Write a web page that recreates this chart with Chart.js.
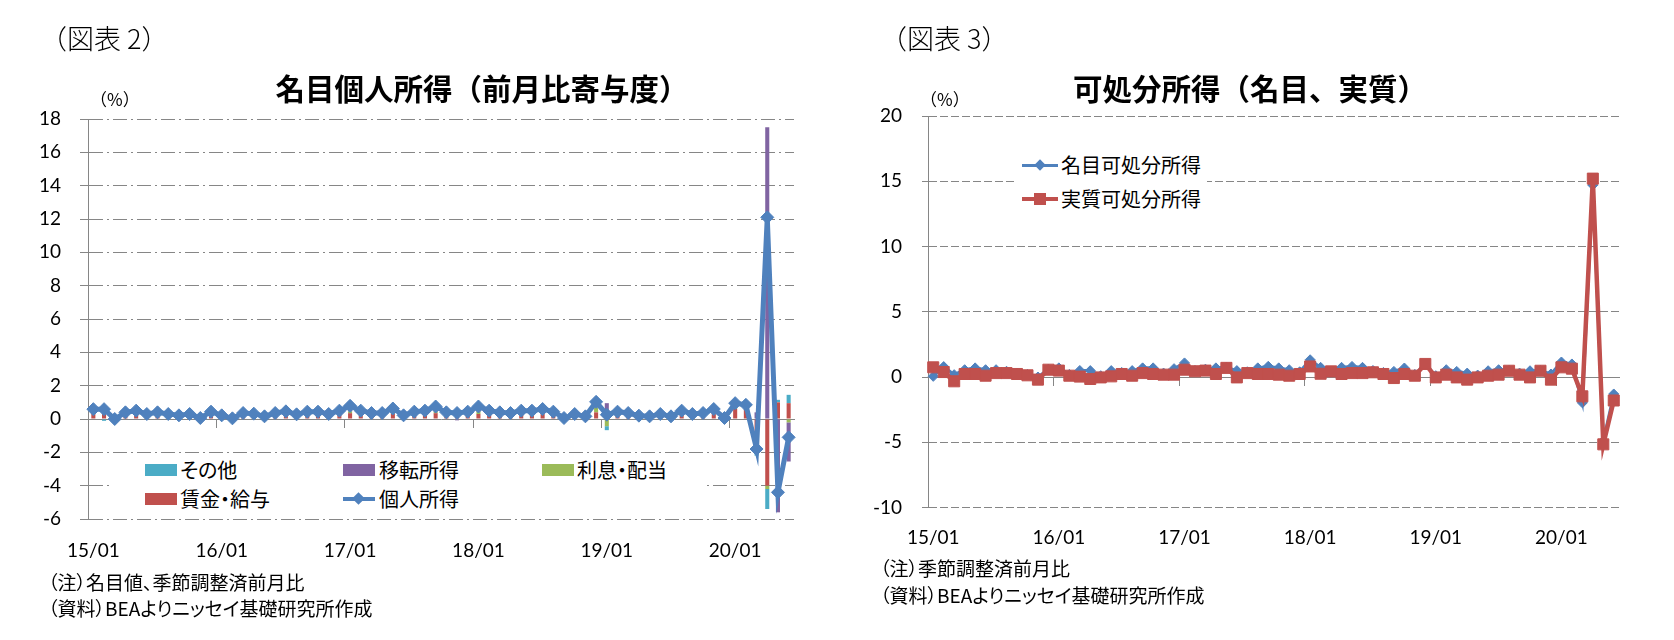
<!DOCTYPE html>
<html><head><meta charset="utf-8">
<script src="https://cdn.jsdelivr.net/npm/chart.js@4"></script>
<style>
html,body{margin:0;padding:0;background:#fff;}
body{width:1674px;height:640px;position:relative;overflow:hidden;font-family:"Noto Sans CJK JP",sans-serif;color:#000;}
.t{position:absolute;white-space:nowrap;line-height:1;}
.p{font-feature-settings:"palt";}
canvas{position:absolute;top:0;}
.box{position:absolute;background:#fff;}
.key{position:absolute;width:32px;height:12px;}
.ln{position:absolute;}
.dia{position:absolute;transform:rotate(45deg);}
</style></head><body>
<canvas id="c1" width="830" height="640" style="left:0"></canvas>
<canvas id="c2" width="844" height="640" style="left:830px"></canvas>

<div class="t" style="left:40px;top:24px;font-size:27px;font-weight:300;">（図表 2）</div>
<div class="t" style="left:880px;top:24px;font-size:27px;font-weight:300;">（図表 3）</div>
<div class="t" style="left:482px;top:73px;font-size:29.5px;font-weight:700;transform:translateX(-50%);">名目個人所得（前月比寄与度）</div>
<div class="t" style="left:1250px;top:73px;font-size:29.5px;font-weight:700;transform:translateX(-50%);">可処分所得（名目、実質）</div>
<div class="t" style="left:90px;top:90px;font-size:17px;">（%）</div>
<div class="t" style="left:920px;top:90px;font-size:17px;">（%）</div>

<div class="t p" style="left:48px;top:572px;font-size:19px;">（注）名目値、季節調整済前月比</div>
<div class="t p" style="left:48px;top:598px;font-size:19px;">（資料）BEAよりニッセイ基礎研究所作成</div>
<div class="t p" style="left:880px;top:558px;font-size:19px;">（注）季節調整済前月比</div>
<div class="t p" style="left:880px;top:585px;font-size:19px;">（資料）BEAよりニッセイ基礎研究所作成</div>

<!-- legend chart 1 -->
<div class="box" style="left:110px;top:455px;width:594px;height:60px;"></div>
<div class="key" style="left:145px;top:464px;background:#4BACC6;"></div>
<div class="t p" style="left:180px;top:460px;font-size:20px;">その他</div>
<div class="key" style="left:343px;top:464px;background:#8064A2;"></div>
<div class="t p" style="left:379px;top:460px;font-size:20px;">移転所得</div>
<div class="key" style="left:542px;top:464px;background:#9BBB59;"></div>
<div class="t p" style="left:577px;top:460px;font-size:20px;">利息・配当</div>
<div class="key" style="left:145px;top:493px;background:#C0504D;"></div>
<div class="t p" style="left:180px;top:489px;font-size:20px;">賃金・給与</div>
<div class="ln" style="left:343px;top:497px;width:32px;height:4px;background:#4F81BD;"></div>
<div class="dia" style="left:354px;top:494px;width:9px;height:9px;background:#4F81BD;"></div>
<div class="t p" style="left:379px;top:489px;font-size:20px;">個人所得</div>

<!-- legend chart 2 -->
<div class="box" style="left:1017px;top:140px;width:190px;height:82px;"></div>
<div class="ln" style="left:1022px;top:164px;width:36px;height:3px;background:#4F81BD;"></div>
<div class="dia" style="left:1036px;top:161px;width:8px;height:8px;background:#4F81BD;"></div>
<div class="t" style="left:1061px;top:155px;font-size:20px;">名目可処分所得</div>
<div class="ln" style="left:1022px;top:197px;width:36px;height:4px;background:#C0504D;"></div>
<div class="ln" style="left:1034px;top:193px;width:12px;height:12px;background:#C0504D;"></div>
<div class="t" style="left:1061px;top:189px;font-size:20px;">実質可処分所得</div>

<script>
// ---- categories (year/month) ----
const labels = [
 '15/01','15/02','15/03','15/04','15/05','15/06','15/07','15/08','15/09','15/10','15/11','15/12',
 '16/01','16/02','16/03','16/04','16/05','16/06','16/07','16/08','16/09','16/10','16/11','16/12',
 '17/01','17/02','17/03','17/04','17/05','17/06','17/07','17/08','17/09','17/10','17/11','17/12',
 '18/01','18/02','18/03','18/04','18/05','18/06','18/07','18/08','18/09','18/10','18/11','18/12',
 '19/01','19/02','19/03','19/04','19/05','19/06','19/07','19/08','19/09','19/10','19/11','19/12',
 '20/01','20/02','20/03','20/04','20/05','20/06'];

// ---- 図表2: contributions (%pt) ----
const wages = [
 0.35,0.3,0.1,0.2,0.3,0.2,0.25,0.2,0.1,0.2,0.1,0.25,
 0.15,0.05,0.2,0.2,0.1,0.2,0.3,0.15,0.25,0.25,0.2,0.3,
 0.35,0.3,0.2,0.2,0.3,0.1,0.25,0.3,0.35,0.25,0.2,0.25,
 0.3,0.3,0.25,0.2,0.3,0.3,0.35,0.25,0.15,0.2,0.1,0.4,
 0.35,0.25,0.2,0.1,0.1,0.2,0.1,0.3,0.2,0.2,0.35,0.05,
 0.6,0.6,-1.0,-4.0,1.0,0.95];
const interest = [
 0.05,0.05,0.0,0.05,0.05,0.03,0.05,0.03,0.03,0.03,0.0,0.05,
 0.02,0.0,0.05,0.03,0.02,0.05,0.05,0.03,0.05,0.05,0.03,0.05,
 0.1,0.05,0.04,0.04,0.13,0.03,0.05,0.05,0.1,0.04,0.04,0.05,
 0.15,0.05,0.05,0.04,0.05,0.05,0.06,0.05,0.0,0.03,0.02,0.3,
 -0.43,0.05,0.05,0.03,0.02,0.03,0.02,0.05,0.03,0.05,0.08,0.0,
 0.1,0.05,-0.1,-0.2,0.0,-0.2];
const transfers = [
 0.15,0.35,0.05,0.1,0.1,0.05,0.05,0.05,0.06,0.05,0.04,0.08,
 0.05,0.02,0.06,0.05,0.03,0.06,0.06,0.05,0.08,0.08,0.05,0.08,
 0.24,0.08,0.06,0.06,0.1,0.05,0.07,0.08,0.15,0.06,-0.08,0.07,
 0.2,0.08,0.05,0.06,0.08,0.08,0.1,0.07,0.0,0.04,0.02,0.13,
 0.6,0.08,0.06,0.04,0.02,0.04,0.02,0.08,0.04,0.06,0.1,0.01,
 0.15,0.1,0.4,17.5,-5.6,-2.35];
const others = [
 0.04,-0.11,-0.15,0.05,0.05,0.02,0.05,0.02,0.03,0.02,-0.08,0.06,
 0.0,-0.03,0.05,0.04,0.01,0.05,0.05,0.05,0.06,0.06,0.02,0.07,
 0.1,0.07,0.06,0.06,0.1,0.04,0.07,0.07,0.15,0.05,0.2,0.07,
 0.1,0.07,0.05,0.06,0.07,0.07,0.09,0.07,-0.09,0.03,0.02,0.2,
 -0.24,0.06,0.05,0.03,0.02,0.03,0.02,0.07,0.03,0.05,0.07,0.0,
 0.1,0.1,-1.1,-1.2,0.15,0.5];
const personalIncome = [
 0.59,0.59,0.0,0.4,0.5,0.3,0.4,0.3,0.22,0.3,0.06,0.44,
 0.22,0.04,0.36,0.32,0.16,0.36,0.46,0.28,0.44,0.44,0.3,0.5,
 0.79,0.5,0.36,0.36,0.63,0.22,0.44,0.5,0.75,0.4,0.36,0.44,
 0.75,0.5,0.4,0.36,0.5,0.5,0.6,0.44,0.06,0.3,0.16,1.03,
 0.26,0.44,0.36,0.2,0.16,0.3,0.16,0.5,0.3,0.36,0.6,0.06,
 0.95,0.85,-1.8,12.1,-4.4,-1.1];

// ---- 図表3: disposable income (%) ----
const nominalDisposable = [
 0.05,0.8,0.18,0.56,0.7,0.56,0.56,0.44,0.3,0.2,0.0,0.6,
 0.7,0.2,0.5,0.49,0.1,0.49,0.35,0.49,0.7,0.7,0.3,0.64,
 1.08,0.5,0.6,0.7,0.75,0.49,0.4,0.7,0.82,0.7,0.56,0.4,
 1.32,0.74,0.45,0.74,0.81,0.74,0.5,0.35,0.43,0.69,0.2,1.0,
 0.1,0.56,0.43,0.3,0.15,0.48,0.56,0.5,0.3,0.48,0.5,0.23,
 1.15,1.0,-1.98,14.7,-4.9,-1.3];
const realDisposable = [
 0.74,0.38,-0.33,0.23,0.23,0.1,0.3,0.3,0.23,0.13,-0.2,0.56,
 0.49,0.1,0.03,-0.15,-0.03,0.05,0.23,0.1,0.3,0.23,0.18,0.18,
 0.56,0.44,0.49,0.23,0.7,-0.03,0.3,0.23,0.23,0.18,0.1,0.23,
 0.81,0.25,0.43,0.23,0.3,0.3,0.36,0.23,-0.08,0.23,0.1,1.0,
 -0.03,0.18,-0.03,-0.2,-0.03,0.1,0.18,0.48,0.18,-0.03,0.48,-0.2,
 0.74,0.64,-1.48,15.2,-5.16,-1.8];

// ---- axis ranges [min, max, step] ----
const yTicks1 = [-6, 18, 2];
const yTicks2 = [-10, 20, 5];

const grey = '#868686';
const tickFont = {family: 'Lato', size: 19};
const clear = 'rgba(0,0,0,0)';

function yAxis(range, width, tickLen, pad, dash, stacked) {
  return {
    type: 'linear', position: 'left', stacked: stacked,
    min: range[0], max: range[1],
    ticks: {stepSize: range[2], font: tickFont, color: '#000', padding: pad},
    grid: {color: grey, lineWidth: 1, tickLength: tickLen, tickColor: grey, drawTicks: true},
    border: {display: true, color: grey, width: 1, dash: dash},
    afterFit: s => { s.width = width; }
  };
}
function xLabelAxis(height, pad, stacked) {
  return {
    type: 'category', position: 'bottom', offset: true, stacked: stacked,
    grid: {display: false, drawTicks: false, offset: true},
    border: {display: false},
    ticks: {autoSkip: false, maxRotation: 0, minRotation: 0, font: tickFont, color: '#000', padding: pad,
      callback: (v, i) => (i % 12 === 0 ? labels[i] : '')},
    afterFit: s => { s.height = height; }
  };
}
function xZeroAxis() {
  return {
    type: 'category', axis: 'x', position: {y: 0}, offset: true,
    grid: {display: true, drawOnChartArea: false, drawTicks: true, tickLength: 8, offset: true,
      color: clear,
      tickColor: c => (typeof c.index === 'number' && c.index % 12 === 0) ? grey : clear},
    border: {display: true, color: grey, width: 1},
    ticks: {display: false}
  };
}

const common = {
  responsive: false, animation: false, devicePixelRatio: 1,
  plugins: {legend: {display: false}, tooltip: {enabled: false}, title: {display: false}}
};

new Chart(document.getElementById('c1'), {
  type: 'bar',
  data: {
    labels: labels,
    datasets: [
      {type: 'line', label: '個人所得', data: personalIncome, order: 0, stack: 'pi',
       borderColor: '#4F81BD', backgroundColor: '#4F81BD', borderWidth: 5,
       pointStyle: 'rectRot', pointRadius: 6.5, pointBackgroundColor: '#4F81BD',
       pointBorderColor: '#4F81BD', pointBorderWidth: 1, tension: 0, fill: false},
      {label: '賃金・給与', data: wages, backgroundColor: '#C0504D', order: 1},
      {label: '利息・配当', data: interest, backgroundColor: '#9BBB59', order: 1},
      {label: '移転所得', data: transfers, backgroundColor: '#8064A2', order: 1},
      {label: 'その他', data: others, backgroundColor: '#4BACC6', order: 1}
    ]
  },
  options: Object.assign({}, common, {
    layout: {padding: {top: 119, right: 36, bottom: 0, left: 0}},
    datasets: {bar: {barPercentage: 0.38, categoryPercentage: 1, borderWidth: 0}},
    scales: {
      x: xLabelAxis(121, 20, true),
      y: yAxis(yTicks1, 88, 8, 19, [14, 4, 2, 4], true),
      x2: xZeroAxis()
    }
  })
});

new Chart(document.getElementById('c2'), {
  type: 'line',
  data: {
    labels: labels,
    datasets: [
      {label: '名目可処分所得', data: nominalDisposable, order: 1,
       borderColor: '#4F81BD', backgroundColor: '#4F81BD', borderWidth: 3,
       pointStyle: 'rectRot', pointRadius: 5, pointBackgroundColor: '#4F81BD',
       pointBorderColor: '#4F81BD', pointBorderWidth: 1, tension: 0, fill: false},
      {label: '実質可処分所得', data: realDisposable, order: 0,
       borderColor: '#C0504D', backgroundColor: '#C0504D', borderWidth: 4.5,
       pointStyle: 'rect', pointRadius: 7.8, pointBackgroundColor: '#C0504D',
       pointBorderColor: '#C0504D', pointBorderWidth: 1, tension: 0, fill: false}
    ]
  },
  options: Object.assign({}, common, {
    layout: {padding: {top: 116, right: 55, bottom: 0, left: 0}},
    scales: {
      x: xLabelAxis(132.5, 19, false),
      y: yAxis(yTicks2, 98, 6, 20, [8, 3], false),
      x2: xZeroAxis()
    }
  })
});
</script>
</body></html>
